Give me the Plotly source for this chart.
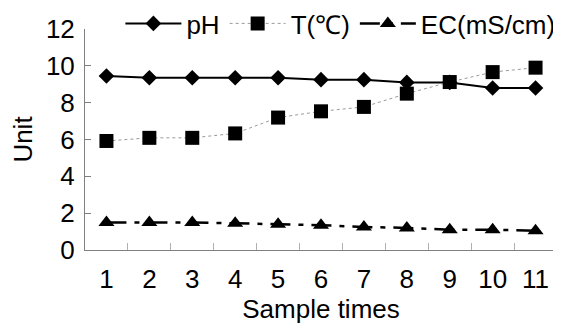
import plotly.graph_objects as go

samples = [str(i) for i in range(1, 12)]
ph = [9.45, 9.35, 9.35, 9.35, 9.35, 9.25, 9.25, 9.1, 9.1, 8.8, 8.8]
temp = [5.92, 6.09, 6.09, 6.33, 7.19, 7.53, 7.77, 8.49, 9.12, 9.66, 9.9]
ec = [1.5, 1.5, 1.5, 1.45, 1.4, 1.35, 1.25, 1.2, 1.1, 1.1, 1.05]
y_ticks = [0, 2, 4, 6, 8, 10, 12]

FONT = "Liberation Sans, Arial, sans-serif"

fig = go.Figure()
fig.add_trace(go.Scatter(
    x=samples, y=ph, name="pH", mode="lines+markers",
    line=dict(color="black", width=2),
    marker=dict(symbol="diamond", size=12, color="black"),
))
fig.add_trace(go.Scatter(
    x=samples, y=temp, name="T(℃)", mode="lines+markers",
    line=dict(color="#9a9a9a", width=1, dash="dot"),
    marker=dict(symbol="square", size=14, color="black"),
))
fig.add_trace(go.Scatter(
    x=samples, y=ec, name="EC(mS/cm)", mode="lines+markers",
    line=dict(color="black", width=2.5, dash="20px,8px,5px,8px"),
    marker=dict(symbol="triangle-up", size=14, color="black"),
))

# The page body has an 8px default margin, so the figure is sized to fit the window.
fig.update_layout(
    width=553, height=319,
    margin=dict(l=77, r=4, t=21, b=77, pad=0, autoexpand=False),
    paper_bgcolor="white", plot_bgcolor="white",
    font=dict(family=FONT, size=26, color="black"),
    showlegend=True,
    legend=dict(
        orientation="h", x=0.075, xanchor="left", y=1.025, yanchor="middle",
        font=dict(family=FONT, size=26, color="black"),
        bgcolor="rgba(0,0,0,0)", itemwidth=56, tracegroupgap=0,
        itemclick=False,
    ),
    xaxis=dict(
        type="category", range=[-0.5, 10.5],
        showline=True, linecolor="#808080", linewidth=1,
        ticks="inside", tickson="boundaries", ticklen=7, tickcolor="#b0b0b0",
        showgrid=False, zeroline=False, automargin=False,
        tickfont=dict(family=FONT, size=26),
        ticklabelstandoff=6,
        title=dict(text="Sample times", font=dict(family=FONT, size=26), standoff=0),
    ),
    yaxis=dict(
        range=[0, 12], tickvals=y_ticks,
        showline=True, linecolor="#808080", linewidth=1,
        ticks="inside", ticklen=6, tickcolor="#808080",
        showgrid=False, zeroline=False, automargin=False,
        tickfont=dict(family=FONT, size=26),
        ticklabelstandoff=4,
        title=dict(text="Unit", font=dict(family=FONT, size=26), standoff=12),
    ),
)

fig.write_html("out.html")
